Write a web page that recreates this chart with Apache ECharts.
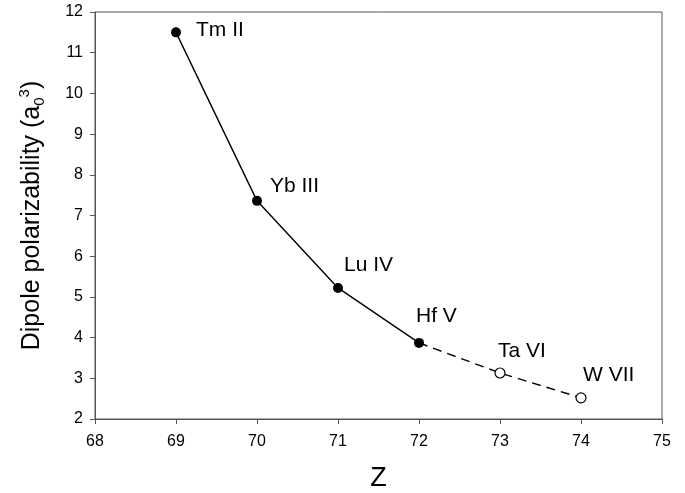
<!DOCTYPE html>
<html>
<head>
<meta charset="utf-8">
<script src="https://cdn.jsdelivr.net/npm/echarts@6/dist/echarts.min.js"></script>
<style>
  html, body { margin: 0; padding: 0; background: #fff; }
  #chart { width: 685px; height: 493px; }
</style>
</head>
<body>
<div id="chart"></div>
<script>
// values
const zValues = [69, 70, 71, 72, 73, 74];
const polarizability = [11.5, 7.36, 5.22, 3.87, 3.13, 2.52];
const ionNames = ['Tm II', 'Yb III', 'Lu IV', 'Hf V', 'Ta VI', 'W VII'];
const lastMeasured = 3; // index of Hf V: solid up to here, dashed after

// label placement relative to each point (text start, text middle)
const labelOffsets = [[20, -2], [13, -15], [6, -23], [-3, -27], [-2, -22], [2, -23]];

const font = '"Liberation Sans", Arial, sans-serif';
const axisGray = '#555';

const chart = echarts.init(document.getElementById('chart'));

const solidData = zValues.slice(0, lastMeasured + 1).map((z, i) => [z, polarizability[i]]);
const dashedData = zValues.slice(lastMeasured).map((z, i) => {
  const item = { value: [z, polarizability[lastMeasured + i]] };
  if (i === 0) item.symbol = 'none';
  return item;
});
const labelData = zValues.map((z, i) => ({
  value: [z, polarizability[i]],
  label: { offset: labelOffsets[i] },
}));

const option = {
  animation: false,
  backgroundColor: '#fff',
  grid: {
    left: 95,
    right: 23,
    top: 12,
    bottom: 74,
    containLabel: false,
    outerBoundsMode: 'none',
    show: true,
    borderColor: axisGray,
    borderWidth: 1,
    backgroundColor: 'transparent',
  },
  xAxis: {
    type: 'value',
    min: 68,
    max: 75,
    interval: 1,
    name: 'Z',
    nameLocation: 'middle',
    nameGap: 46,
    nameTextStyle: { fontFamily: font, fontSize: 27, color: '#000' },
    axisLine: { lineStyle: { color: axisGray, width: 1 } },
    axisTick: { inside: false, length: 5, lineStyle: { color: axisGray } },
    axisLabel: { fontFamily: font, fontSize: 16, color: '#000', margin: 15 },
    splitLine: { show: false },
  },
  yAxis: {
    type: 'value',
    min: 2,
    max: 12,
    interval: 1,
    name: 'Dipole polarizability (a{sub|0}{sup|3})',
    nameLocation: 'middle',
    nameGap: 48,
    nameTextStyle: {
      fontFamily: font,
      fontSize: 25,
      color: '#000',
      lineHeight: 30,
      rich: {
        sub: { fontFamily: font, fontSize: 15, color: '#000', lineHeight: 14, verticalAlign: 'bottom' },
        sup: { fontFamily: font, fontSize: 15, color: '#000', lineHeight: 14, verticalAlign: 'top' },
      },
    },
    axisLine: { show: true, lineStyle: { color: axisGray, width: 1 } },
    axisTick: { show: true, inside: false, length: 5, lineStyle: { color: axisGray } },
    axisLabel: { fontFamily: font, fontSize: 16, color: '#000', margin: 12 },
    splitLine: { show: false },
  },
  series: [
    {
      name: 'dashed',
      type: 'line',
      data: dashedData,
      symbol: 'circle',
      symbolSize: 10,
      showAllSymbol: true,
      itemStyle: { color: '#fff', borderColor: '#000', borderWidth: 1.2 },
      lineStyle: { color: '#000', width: 1.4, type: [9, 6] },
      z: 2,
    },
    {
      name: 'solid',
      type: 'line',
      data: solidData,
      symbol: 'circle',
      symbolSize: 10,
      showAllSymbol: true,
      itemStyle: { color: '#000' },
      lineStyle: { color: '#000', width: 1.4 },
      z: 3,
    },
    {
      name: 'labels',
      type: 'scatter',
      data: labelData,
      symbolSize: 0,
      silent: true,
      itemStyle: { opacity: 1 },
      label: {
        show: true,
        position: 'inside',
        align: 'left',
        verticalAlign: 'middle',
        fontFamily: font,
        fontSize: 21,
        color: '#000',
        formatter: (p) => ionNames[p.dataIndex],
      },
      z: 4,
    },
  ],
};

chart.setOption(option);
</script>
</body>
</html>
